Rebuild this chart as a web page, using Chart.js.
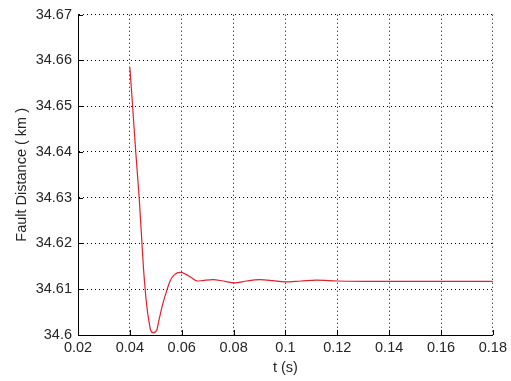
<!DOCTYPE html>
<html>
<head>
<meta charset="utf-8">
<script src="https://cdn.jsdelivr.net/npm/chart.js@4"></script>
<style>
  html, body { margin: 0; padding: 0; background: #fff; }
  #wrap { width: 511px; height: 381px; }
</style>
</head>
<body>
<div id="wrap"><canvas id="chart" width="511" height="381"></canvas></div>
<script>
// data
const tValues = [0.0400, 0.0410, 0.0423, 0.0437, 0.0452, 0.0459, 0.0466, 0.0473, 0.0480,
  0.0490, 0.0504, 0.0512, 0.0527, 0.0544, 0.0555, 0.0572, 0.0596, 0.0615, 0.0635,
  0.0660, 0.0680, 0.0720, 0.0760, 0.0804, 0.0850, 0.0900, 0.0950, 0.0996, 0.1060,
  0.1120, 0.1200, 0.1400, 0.1600, 0.1800];
const distValues = [34.6585, 34.6505, 34.6398, 34.6291, 34.6150, 34.6100, 34.6060, 34.6032, 34.6011,
  34.6005, 34.6011, 34.6032, 34.6068, 34.6100, 34.6118, 34.6132, 34.6137, 34.6133, 34.6126,
  34.6118, 34.6119, 34.6121, 34.6118, 34.6114, 34.6118, 34.6121, 34.6119, 34.6116, 34.6118,
  34.6120, 34.6118, 34.6117, 34.6117, 34.6117];

const xTicks = [0.02, 0.04, 0.06, 0.08, 0.1, 0.12, 0.14, 0.16, 0.18];
const xTickLabels = ['0.02', '0.04', '0.06', '0.08', '0.1', '0.12', '0.14', '0.16', '0.18'];
const yTicks = [34.6, 34.61, 34.62, 34.63, 34.64, 34.65, 34.66, 34.67];
const yTickLabels = ['34.6', '34.61', '34.62', '34.63', '34.64', '34.65', '34.66', '34.67'];

const FONT = '"Liberation Sans", Arial, sans-serif';

// small inward tick marks on the left and bottom axis (matlab style)
const innerTicks = {
  id: 'innerTicks',
  afterDatasetsDraw(chart) {
    const { ctx, chartArea, scales } = chart;
    ctx.save();
    ctx.strokeStyle = '#000';
    ctx.lineWidth = 1;
    ctx.beginPath();
    xTicks.forEach(v => {
      const px = Math.round(scales.x.getPixelForValue(v)) + 0.5;
      ctx.moveTo(px, chartArea.bottom);
      ctx.lineTo(px, chartArea.bottom - 5);
    });
    yTicks.forEach(v => {
      const py = Math.round(scales.y.getPixelForValue(v)) + 0.5;
      ctx.moveTo(chartArea.left, py);
      ctx.lineTo(chartArea.left + 5, py);
    });
    ctx.stroke();
    ctx.restore();
  }
};

new Chart(document.getElementById('chart'), {
  type: 'line',
  data: {
    datasets: [{
      data: tValues.map((t, i) => ({ x: t, y: distValues[i] })),
      borderColor: '#e0202c',
      borderWidth: 1.2,
      pointRadius: 0,
      fill: false,
      cubicInterpolationMode: 'monotone'
    }]
  },
  options: {
    responsive: false,
    animation: false,
    layout: { padding: { top: 9, right: 17, bottom: 0, left: 0 } },
    plugins: { legend: { display: false }, tooltip: { enabled: false } },
    scales: {
      x: {
        type: 'linear',
        min: 0.02,
        max: 0.18,
        afterBuildTicks: scale => { scale.ticks = xTicks.map(v => ({ value: v })); },
        afterFit: scale => { scale.height = 46; },
        ticks: {
          padding: 4,
          color: '#262626',
          font: { family: FONT, size: 14.5 },
          maxRotation: 0,
          autoSkip: false,
          callback: (v, i) => xTickLabels[i]
        },
        grid: { color: '#000', lineWidth: 1, drawTicks: false },
        border: { color: '#000', width: 1, dash: [1, 3] },
        title: {
          display: true,
          text: 't (s)',
          color: '#262626',
          font: { family: FONT, size: 14.5 },
          padding: { top: 0, bottom: 4.5 }
        }
      },
      y: {
        type: 'linear',
        min: 34.6,
        max: 34.67,
        afterBuildTicks: scale => { scale.ticks = yTicks.map(v => ({ value: v })); },
        afterFit: scale => { scale.width = 78; },
        ticks: {
          padding: 6,
          color: '#262626',
          font: { family: FONT, size: 14.5 },
          autoSkip: false,
          callback: (v, i) => yTickLabels[i]
        },
        grid: { color: '#000', lineWidth: 1, drawTicks: false },
        border: { color: '#000', width: 1, dash: [1, 3] },
        title: {
          display: true,
          text: 'Fault Distance ( km )',
          color: '#262626',
          font: { family: FONT, size: 14.5 },
          padding: { top: 13, bottom: 0 }
        }
      }
    }
  },
  plugins: [innerTicks]
});
</script>
</body>
</html>
